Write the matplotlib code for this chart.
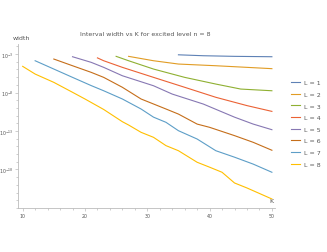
"""Interval width vs K for excited level n = 8 (log scale)."""
import numpy as np
import matplotlib
matplotlib.use("Agg")
import matplotlib.pyplot as plt
from matplotlib.ticker import FixedLocator, LogFormatterSciNotation, NullFormatter

# K values and log10(width) per L
k_l1 = [35, 39, 44, 50]
w_l1 = [-3.1, -3.22, -3.3, -3.35]
k_l2 = [27, 31, 35, 41, 46, 50]
w_l2 = [-3.3, -3.87, -4.3, -4.52, -4.73, -4.9]
k_l3 = [25, 27, 31, 36, 41, 45, 50]
w_l3 = [-3.3, -3.87, -4.95, -6.03, -6.9, -7.55, -7.77]
k_l4 = [22, 23, 26, 31, 36, 41, 46, 50]
w_l4 = [-3.5, -3.87, -4.73, -6.03, -7.32, -8.62, -9.7, -10.45]
k_l5 = [18, 21, 23, 26, 31, 34, 39, 44, 47, 50]
w_l5 = [-3.35, -4.08, -4.73, -5.82, -7.12, -8.2, -9.5, -11.2, -12.1, -12.83]
k_l6 = [15, 18, 21, 23, 26, 29, 33, 35, 38, 40, 44, 47, 50]
w_l6 = [-3.65, -4.52, -5.38, -6.03, -7.32, -8.84, -10.14, -10.8, -12.1, -12.52, -13.6, -14.47, -15.5]
k_l7 = [12, 15, 18, 21, 23, 26, 29, 31, 33, 35, 38, 41, 44, 47, 50]
w_l7 = [-3.87, -4.95, -6.03, -7.1, -7.77, -8.84, -10.14, -11.2, -11.87, -12.96, -14.04,
        -15.56, -16.4, -17.3, -18.36]
k_l8 = [10, 12, 15, 18, 20, 23, 26, 27, 29, 31, 33, 35, 38, 40, 42, 44, 46, 50]
w_l8 = [-4.6, -5.6, -6.68, -7.97, -8.84, -10.2, -11.79, -12.22, -13.17, -13.82, -14.9,
        -15.56, -17.06, -17.7, -18.36, -19.75, -20.4, -21.83]

labels = ["L = 1", "L = 2", "L = 3", "L = 4", "L = 5", "L = 6", "L = 7", "L = 8"]
colors = ["#5E81B5", "#E19C24", "#8FB032", "#EB6235", "#8778B3", "#C56E1A", "#5D9EC7", "#FFBF00"]
series = [(k_l1, w_l1), (k_l2, w_l2), (k_l3, w_l3), (k_l4, w_l4),
          (k_l5, w_l5), (k_l6, w_l6), (k_l7, w_l7), (k_l8, w_l8)]

fig = plt.figure(figsize=(3.27, 2.53), dpi=100)
ax = fig.add_axes([0.056, 0.174, 0.785, 0.648])

handles = []
for (k, w), c, lab in zip(series, colors, labels):
    h, = ax.plot(k, 10.0 ** np.array(w), color=c, lw=0.8, label=lab)
    handles.append(h)

ax.set_yscale("log")
ax.set_xlim(9.3, 50.5)
ax.set_ylim(10 ** -23, 10 ** -1.7)

for s in ("top", "right"):
    ax.spines[s].set_visible(False)
for s in ("left", "bottom"):
    ax.spines[s].set_color("#bbbbbb")
    ax.spines[s].set_linewidth(0.6)

ax.yaxis.set_major_locator(FixedLocator([1e-3, 1e-8, 1e-13, 1e-18]))
ax.yaxis.set_major_formatter(LogFormatterSciNotation())
ax.yaxis.set_minor_locator(FixedLocator([10.0 ** e for e in range(-23, -1)]))
ax.yaxis.set_minor_formatter(NullFormatter())
ax.set_xticks([10, 20, 30, 40, 50])
ax.set_xticks(np.arange(10, 51, 2), minor=True)
ax.tick_params(which="both", colors="#bbbbbb", labelcolor="#555555", labelsize=3.4,
               width=0.5, pad=0.8)
ax.tick_params(which="major", length=2.5)
ax.tick_params(which="minor", length=1.5)

ax.text(0.988, 0.03, "K", transform=ax.transAxes, fontsize=4.5, color="#555555",
        ha="center", va="bottom")
ax.text(-0.02, 1.025, "width", transform=ax.transAxes, fontsize=4.5, color="#555555",
        ha="left", va="bottom")
fig.text(0.445, 0.862, "Interval width vs K for excited level n = 8", fontsize=4.5,
         color="#555555", ha="center", va="center")

fig.legend(handles=handles, loc="upper left", bbox_to_anchor=(0.89, 0.68),
           frameon=False, fontsize=4.5, handlelength=1.5, handletextpad=0.5,
           labelspacing=1.0, borderpad=0, borderaxespad=0, labelcolor="#555555")

fig.savefig("out.png", dpi=100)
